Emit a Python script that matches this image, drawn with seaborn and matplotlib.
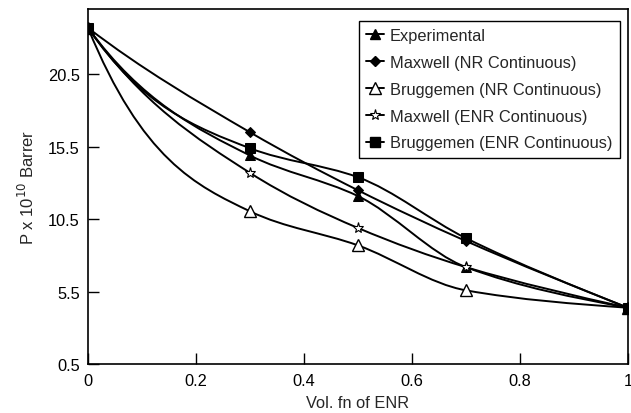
import matplotlib
matplotlib.use("Agg")
import matplotlib.pyplot as plt
from matplotlib.path import Path
from matplotlib.patches import PathPatch
from matplotlib.lines import Line2D
import seaborn as sns

vol_fraction = [0.0, 0.3, 0.5, 0.7, 1.0]
experimental = [23.7, 14.9, 12.1, 7.2, 4.4]
maxwell_nr = [23.7, 16.5, 12.5, 9.0, 4.4]
bruggemen_nr = [23.7, 11.05, 8.7, 5.6, 4.4]
maxwell_enr = [23.7, 13.7, 9.9, 7.2, 4.4]
bruggemen_enr = [23.7, 15.4, 13.4, 9.2, 4.4]

series_names = ["Experimental", "Maxwell (NR Continuous)", "Bruggemen (NR Continuous)",
                "Maxwell (ENR Continuous)", "Bruggemen (ENR Continuous)"]
series_values = [experimental, maxwell_nr, bruggemen_nr, maxwell_enr, bruggemen_enr]

x_ticks = [0, 0.2, 0.4, 0.6, 0.8, 1.0]
x_tick_labels = ["0", "0.2", "0.4", "0.6", "0.8", "1"]
y_ticks = [0.5, 5.5, 10.5, 15.5, 20.5]
y_tick_labels = ["0.5", "5.5", "10.5", "15.5", "20.5"]

sns.set_style("ticks")
plt.rcParams['font.family'] = ['Liberation Sans', 'DejaVu Sans']

styles = [
    dict(marker='^', markersize=7, markerfacecolor='black', markeredgecolor='black'),
    dict(marker='D', markersize=5, markerfacecolor='black', markeredgecolor='black'),
    dict(marker='^', markersize=8, markerfacecolor='white', markeredgecolor='black', markeredgewidth=1.0),
    dict(marker='*', markersize=8, markerfacecolor='white', markeredgecolor='black', markeredgewidth=0.8),
    dict(marker='s', markersize=7, markerfacecolor='black', markeredgecolor='black'),
]

fig = plt.figure(figsize=(6.31, 4.14), dpi=100)
ax = fig.add_axes([0.1395, 0.1176, 0.8557, 0.8582])


def smooth_path(xs, ys):
    """Smooth curve through the data points (cubic Bezier segments)."""
    n = len(xs)
    h = [xs[i + 1] - xs[i] for i in range(n - 1)]
    s = [(ys[i + 1] - ys[i]) / h[i] for i in range(n - 1)]
    d = [0.0] * n
    for i in range(1, n - 1):
        if s[i - 1] * s[i] <= 0:
            d[i] = 0.0
        else:
            w1 = 2 * h[i] + h[i - 1]
            w2 = h[i] + 2 * h[i - 1]
            d[i] = (w1 + w2) / (w1 / s[i - 1] + w2 / s[i])
    d[0] = 3 * s[0] - 2 * d[1]
    if d[0] * s[0] < 0:
        d[0] = 0.0
    d[-1] = (3 * s[-1] - d[-2]) / 2
    if d[-1] * s[-1] < 0:
        d[-1] = 0.0
    verts = [(xs[0], ys[0])]
    codes = [Path.MOVETO]
    for i in range(n - 1):
        c1 = (xs[i] + h[i] / 3, ys[i] + d[i] * h[i] / 3)
        c2 = (xs[i + 1] - h[i] / 3, ys[i + 1] - d[i + 1] * h[i] / 3)
        verts += [c1, c2, (xs[i + 1], ys[i + 1])]
        codes += [Path.CURVE4] * 3
    return Path(verts, codes)


handles = []
for name, vals, st in zip(series_names, series_values, styles):
    ax.add_patch(PathPatch(smooth_path(vol_fraction, vals), facecolor='none',
                           edgecolor='black', lw=1.4, zorder=2))
    sns.lineplot(x=vol_fraction, y=vals, ax=ax, color='black', linestyle='',
                 legend=False, zorder=3, **st)
    handles.append(Line2D([0], [0], color='black', lw=1.4, label=name, **st))

ax.set_xlim(0, 1)
ax.set_ylim(0.5, 25)
ax.set_xticks(x_ticks)
ax.set_xticklabels(x_tick_labels)
ax.set_yticks(y_ticks)
ax.set_yticklabels(y_tick_labels)
ax.tick_params(direction='in', length=8, width=1, labelsize=11.8, colors='black', pad=6)
for sp in ax.spines.values():
    sp.set_color('black')
    sp.set_linewidth(1.2)

ax.set_xlabel("Vol. fn of ENR", fontsize=11.8, labelpad=5)
ax.set_ylabel(r"P x 10$^{10}$ Barrer", fontsize=12, labelpad=8)

leg = ax.legend(handles=handles, loc='upper right', bbox_to_anchor=(0.985, 0.967),
                borderaxespad=0, fontsize=11.8, frameon=True, fancybox=False,
                handlelength=1.1, handletextpad=0.35, borderpad=0.45,
                labelspacing=0.72, framealpha=1)
leg.get_frame().set_edgecolor('black')
leg.get_frame().set_linewidth(1.0)

fig.savefig("out.png", dpi=100)
